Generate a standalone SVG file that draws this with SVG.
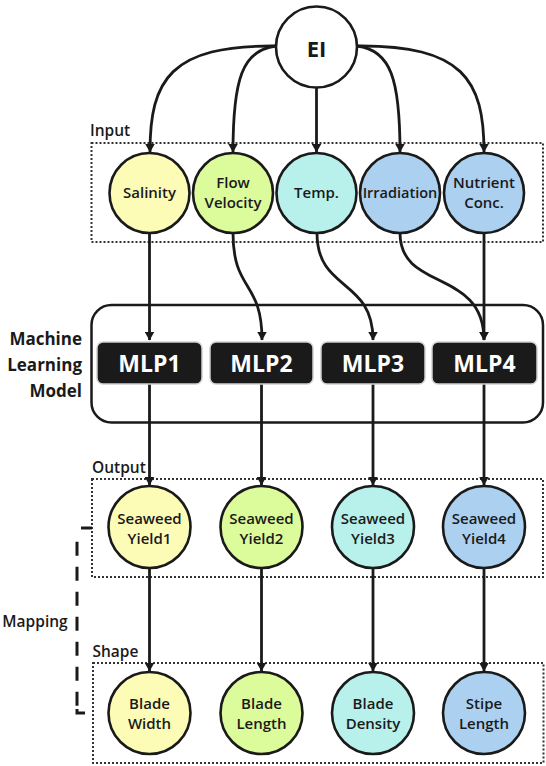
<svg xmlns="http://www.w3.org/2000/svg" width="546" height="766" viewBox="0 0 546 766">
<defs>
<style>
.node{stroke:#1a1a1a;stroke-width:2.6}
.y{fill:#fdfcb7}.g{fill:#dcfb9b}.c{fill:#b8f0eb}.b{fill:#abd0f0}
.t{font-family:"Open Sans","Noto Sans","DejaVu Sans",sans-serif;font-weight:600;fill:#1a1a1a;text-anchor:middle;font-size:15px}
.lbl{font-family:"Open Sans","Noto Sans","DejaVu Sans",sans-serif;font-weight:600;fill:#1a1a1a;font-size:15.5px}
.side{font-family:"Open Sans","Noto Sans","DejaVu Sans",sans-serif;font-weight:700;fill:#1a1a1a;font-size:17px;text-anchor:end}
.mlp{fill:#1a1a1a;stroke:#d0d0d0;stroke-width:1.5}
.mt{font-family:"Open Sans","Noto Sans","DejaVu Sans",sans-serif;font-weight:700;fill:#ffffff;text-anchor:middle;font-size:23px}
.dot{fill:none;stroke:#333;stroke-width:2;stroke-dasharray:2 2}
.e{fill:none;stroke:#1a1a1a;stroke-width:2.8;marker-end:url(#ah)}
</style>
<marker id="ah" markerWidth="10" markerHeight="10" refX="8.5" refY="5" orient="auto" markerUnits="userSpaceOnUse">
<path d="M0,0 L9,5 L0,10 Z" fill="#1a1a1a"/>
</marker>
</defs>
<rect width="546" height="766" fill="#ffffff"/>

<!-- group boxes -->
<g id="groups">
<rect class="dot" x="91.5" y="143" width="451.5" height="99"/>
<text class="lbl" x="90" y="136">Input</text>
<rect x="91.5" y="305" width="451.5" height="117.5" rx="20" fill="none" stroke="#1a1a1a" stroke-width="2.5"/>
<rect class="dot" x="92" y="479" width="451" height="98"/>
<text class="lbl" x="92" y="473">Output</text>
<rect class="dot" x="93" y="663" width="450.5" height="100"/>
<text class="lbl" x="92.5" y="657">Shape</text>
</g>

<g id="ml-label">
<text class="side" x="82" y="345">Machine</text>
<text class="side" x="82" y="371">Learning</text>
<text class="side" x="82" y="397">Model</text>
</g>

<g id="mapping">
<line x1="81" y1="528" x2="92" y2="528" stroke="#1a1a1a" stroke-width="3"/>
<line x1="77" y1="541.7" x2="77" y2="706" stroke="#1a1a1a" stroke-width="3" stroke-dasharray="14 11"/>
<path d="M77,709 V713 H85" fill="none" stroke="#1a1a1a" stroke-width="3"/>
<text class="t" x="35" y="627" style="font-size:15.5px">Mapping</text>
</g>

<!-- connectors -->
<g id="connectors">
<path class="e" d="M276,46 C170,45 150,80 150,152"/>
<path class="e" d="M276,46 C242,50 233,80 233,152"/>
<path class="e" d="M316.5,87 V152"/>
<path class="e" d="M357,46 C391,50 400,80 400,152"/>
<path class="e" d="M357,46 C463,45 484,80 484,152"/>

<path class="e" d="M149.5,233 V340"/>
<path class="e" d="M233,233 C233,292 262,280 262,340"/>
<path class="e" d="M317,233 C317,292 373,278 373,340"/>
<path class="e" d="M400,233 C400,292 484,268 484,340"/>
<path class="e" d="M484,233 V340"/>

<path class="e" d="M149.5,384 V485"/>
<path class="e" d="M261.5,384 V485"/>
<path class="e" d="M373,384 V485"/>
<path class="e" d="M484,384 V485"/>

<path class="e" d="M149.5,568 V671"/>
<path class="e" d="M261.5,568 V671"/>
<path class="e" d="M373,568 V671"/>
<path class="e" d="M484,568 V671"/>
</g>

<!-- nodes -->
<g id="ei"><circle cx="316.5" cy="47" r="40.5" fill="#ffffff" class="node"/><text class="t" x="316.5" y="57" style="font-size:22px;font-weight:700">EI</text></g>

<g id="salinity"><circle class="node y" cx="149.5" cy="193" r="40"/><text class="t" x="149.5" y="198">Salinity</text></g>
<g id="flow-velocity"><circle class="node g" cx="233" cy="193" r="40"/><text class="t" x="233" y="188">Flow</text><text class="t" x="233" y="208">Velocity</text></g>
<g id="temp"><circle class="node c" cx="316.5" cy="193" r="40"/><text class="t" x="316.5" y="198">Temp.</text></g>
<g id="irradiation"><circle class="node b" cx="400" cy="193" r="40"/><text class="t" x="400" y="198" style="font-size:14.5px">Irradiation</text></g>
<g id="nutrient"><circle class="node b" cx="484" cy="193" r="40"/><text class="t" x="484" y="188">Nutrient</text><text class="t" x="484" y="208">Conc.</text></g>

<g id="mlp1"><rect class="mlp" x="97" y="342" width="105" height="42" rx="6"/><text class="mt" x="149.5" y="371.5">MLP1</text></g>
<g id="mlp2"><rect class="mlp" x="210" y="342" width="103" height="42" rx="6"/><text class="mt" x="261.5" y="371.5">MLP2</text></g>
<g id="mlp3"><rect class="mlp" x="321" y="342" width="104" height="42" rx="6"/><text class="mt" x="373" y="371.5">MLP3</text></g>
<g id="mlp4"><rect class="mlp" x="432" y="342" width="105" height="42" rx="6"/><text class="mt" x="484.5" y="371.5">MLP4</text></g>

<g id="yield1"><circle class="node y" cx="149.5" cy="527" r="41"/><text class="t" x="149.5" y="524">Seaweed</text><text class="t" x="149.5" y="544">Yield1</text></g>
<g id="yield2"><circle class="node g" cx="261.5" cy="527" r="41"/><text class="t" x="261.5" y="524">Seaweed</text><text class="t" x="261.5" y="544">Yield2</text></g>
<g id="yield3"><circle class="node c" cx="373" cy="527" r="41"/><text class="t" x="373" y="524">Seaweed</text><text class="t" x="373" y="544">Yield3</text></g>
<g id="yield4"><circle class="node b" cx="484" cy="527" r="41"/><text class="t" x="484" y="524">Seaweed</text><text class="t" x="484" y="544">Yield4</text></g>

<g id="blade-width"><circle class="node y" cx="149.5" cy="713" r="41"/><text class="t" x="149.5" y="709">Blade</text><text class="t" x="149.5" y="729">Width</text></g>
<g id="blade-length"><circle class="node g" cx="261.5" cy="713" r="41"/><text class="t" x="261.5" y="709">Blade</text><text class="t" x="261.5" y="729">Length</text></g>
<g id="blade-density"><circle class="node c" cx="373" cy="713" r="41"/><text class="t" x="373" y="709">Blade</text><text class="t" x="373" y="729">Density</text></g>
<g id="stipe-length"><circle class="node b" cx="484" cy="713" r="41"/><text class="t" x="484" y="709">Stipe</text><text class="t" x="484" y="729">Length</text></g>
</svg>
